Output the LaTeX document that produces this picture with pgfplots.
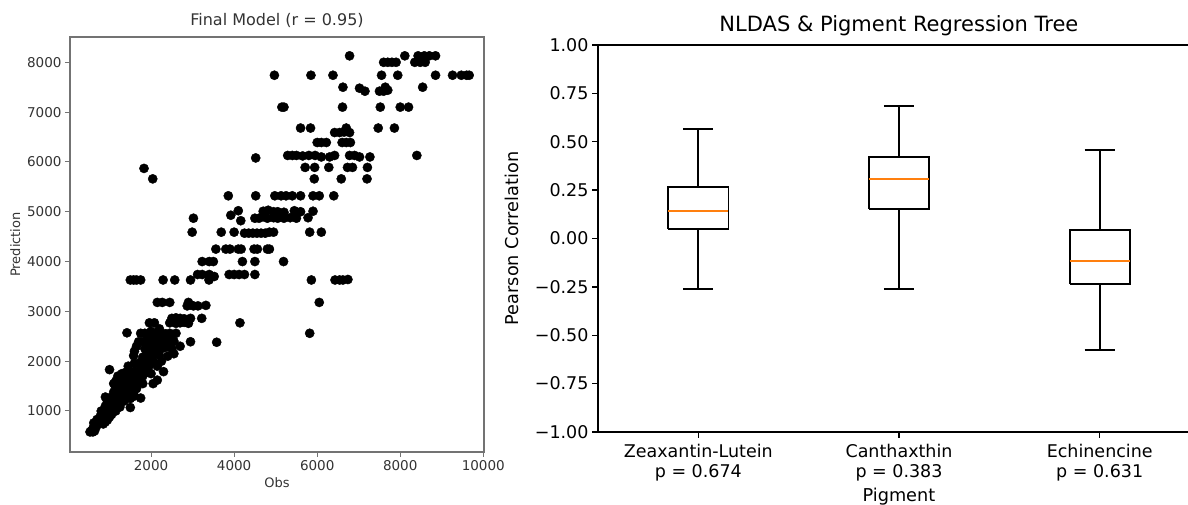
\documentclass[border=0pt]{standalone}
\usepackage{pgfplots}
\pgfplotsset{compat=1.18}
\usepackage{fontspec}
\setmainfont{DejaVu Sans}
\definecolor{mplorange}{HTML}{FF7F0E}

\pgfplotstableread{
x y
530 580
560 600
600 580
640 600
600 650
680 680
620 760
700 750
760 760
850 740
900 780
700 830
800 820
880 850
950 820
780 900
850 920
920 900
1000 880
1050 930
850 1000
920 1020
1000 1000
1080 1050
1150 1000
1250 1080
900 1100
980 1080
1060 1120
1150 1150
1500 1070
950 1200
1050 1180
1120 1220
1200 1160
1300 1200
900 1280
1000 1260
1100 1300
1200 1270
1280 1300
1380 1250
1750 1260
1100 1380
1180 1350
1260 1400
1340 1380
1420 1350
1600 1420
1150 1480
1250 1450
1350 1500
1450 1470
1550 1520
1650 1450
1100 1550
1250 1580
1380 1560
1480 1600
1560 1580
1650 1620
1700 1560
2050 1550
1350 1660
1450 1700
1550 1680
1620 1720
1700 1680
1800 1700
2150 1620
1400 1780
1520 1760
1600 1800
1700 1780
1800 1820
1900 1780
2300 1790
1000 1830
1750 1880
1850 1850
1950 1900
1600 1960
1750 1980
1850 2000
1950 1950
2050 2000
1580 2110
1800 2080
1900 2150
2000 2100
2100 2150
2200 2120
2400 2100
2550 2150
1850 2250
1950 2280
2050 2250
2150 2300
2250 2250
2350 2280
2500 2250
2700 2300
1700 2390
1800 2390
1900 2420
2000 2400
2100 2380
2200 2420
2300 2400
2400 2380
2950 2390
3580 2380
1420 2570
1750 2560
1850 2560
1950 2560
2050 2540
2150 2560
2250 2560
2350 2550
2450 2560
2600 2560
5820 2560
1960 2770
2080 2770
2450 2770
2600 2760
2700 2770
2800 2780
2900 2760
4140 2770
2500 2860
2600 2870
2700 2860
2800 2850
2950 2860
3220 2860
2870 3110
2950 3130
3020 3110
3130 3110
3320 3120
2150 3180
2270 3180
2450 3180
2900 3180
6050 3180
1500 3630
1580 3630
1650 3630
1750 3630
2290 3630
2570 3630
2950 3630
3395 3630
5860 3630
6430 3630
6540 3630
6620 3630
6740 3640
3120 3740
3230 3740
3400 3740
3520 3700
3880 3740
4000 3740
4120 3740
4250 3740
4500 3740
3230 4000
3400 4000
3500 4000
4200 4000
4500 4000
5190 4000
3560 4250
3800 4250
3900 4250
4100 4250
4170 4250
4480 4250
4560 4250
4800 4250
4850 4250
2990 4590
3690 4590
4000 4590
4250 4570
4350 4570
4450 4570
4550 4570
4650 4570
4750 4570
4850 4590
4950 4590
5820 4590
6100 4590
3020 4870
4160 4820
4500 4870
4600 4870
4700 4900
4800 4870
4950 4880
5050 4870
5200 4870
5350 4880
5500 4870
5780 4880
3920 4930
4100 5020
4700 5010
4820 5030
4950 5000
5050 5000
5200 4990
5450 5020
5600 5000
5900 5010
3860 5320
4520 5320
4980 5320
5130 5320
5250 5320
5400 5320
5600 5320
5900 5320
6050 5320
6400 5320
2040 5660
5930 5660
6580 5660
7200 5660
1830 5870
5710 5890
5940 5890
6280 5890
6730 5890
6850 5890
7210 5890
4520 6080
5290 6130
5400 6130
5500 6130
5650 6120
5800 6130
5950 6130
6100 6100
6300 6100
6420 6130
6780 6130
6900 6130
7020 6100
7270 6100
8400 6130
6000 6390
6100 6390
6220 6390
6600 6390
6700 6390
6800 6390
6420 6590
6540 6590
6650 6600
6780 6590
6700 6680
5600 6680
5840 6680
7470 6680
7860 6680
5150 7100
5200 7100
6610 7100
7520 7100
8000 7100
8200 7100
7020 7480
7150 7420
7500 7420
7600 7420
7700 7440
6620 7500
7640 7500
8540 7500
4970 7740
5850 7740
6380 7740
7550 7740
7940 7740
8850 7740
9260 7740
9470 7740
9600 7740
9660 7740
7600 8000
7700 8000
7800 8000
7900 8000
8350 8000
8480 8000
8600 8000
6780 8130
8110 8130
8430 8130
8580 8130
8700 8130
8850 8130
1300 1750
1450 1900
1600 2200
1650 2300
2000 2600
2200 2650
2450 2450
2550 2400
1800 1550
2000 1750
2150 1900
2250 2000
1350 1200
1600 1300
1500 1250
800 1000
1150 1600
1200 1700
}\scatterdata

\begin{document}
\begin{tikzpicture}
\begin{axis}[
  at={(70pt,53pt)}, anchor=south west, scale only axis,
  width=414pt, height=415pt,
  xmin=48, xmax=10017, ymin=177, ymax=8508,
  scaled x ticks=false, scaled y ticks=false,
  xtick={2000,4000,6000,8000,10000},
  xticklabels={2000,4000,6000,8000,10000},
  ytick={1000,2000,3000,4000,5000,6000,7000,8000},
  yticklabels={1000,2000,3000,4000,5000,6000,7000,8000},
  tick align=outside, tick pos=left, major tick length=5pt,
  axis line style={black!55, line width=1.2pt},
  every tick/.style={black!55, line width=1pt},
  ticklabel style={font=\fontsize{13.5}{16}\selectfont, text=black!80},
  title={Final Model (r = 0.95)},
  title style={font=\fontsize{16}{19}\selectfont, text=black!80},
  xlabel={Obs}, ylabel={Prediction},
  label style={font=\fontsize{13}{15}\selectfont, text=black!80},
]
\addplot[only marks, mark=*, mark size=4.6pt, black] table {\scatterdata};
\end{axis}

\begin{axis}[
  at={(598pt,73pt)}, anchor=south west, scale only axis,
  width=590pt, height=387pt,
  xmin=0.5, xmax=3.44, ymin=-1, ymax=1,
  axis y line*=left,
  xtick={1,2,3},
  xticklabels={{Zeaxantin-Lutein\\p = 0.674},{Canthaxthin\\p = 0.383},{Echinencine\\p = 0.631}},
  xticklabel style={align=center, font=\fontsize{17.5}{19.5}\selectfont, yshift=-3pt},
  ytick={-1,-0.75,-0.5,-0.25,0,0.25,0.5,0.75,1},
  yticklabels={−1.00,−0.75,−0.50,−0.25,0.00,0.25,0.50,0.75,1.00},
  yticklabel style={font=\fontsize{17.5}{20}\selectfont},
  tick align=outside, tick pos=left, major tick length=6pt,
  axis line style={black, line width=1.6pt},
  every tick/.style={black, line width=1.4pt},
  title={NLDAS \& Pigment Regression Tree},
  title style={at={(axis description cs:0.51,1)}, font=\fontsize{21}{25}\selectfont},
  xlabel={Pigment}, ylabel={Pearson Correlation},
  xlabel style={at={(ticklabel cs:0.51)}, yshift=-0.5pt},
  ylabel style={yshift=9pt},
  label style={font=\fontsize{17.7}{21}\selectfont},
]
% Zeaxantin-Lutein
\addplot[black, line width=1.8pt] coordinates {(0.85,0.050) (1.15,0.050) (1.15,0.265) (0.85,0.265) (0.85,0.050)};
\addplot[black, line width=1.8pt] coordinates {(1,0.265) (1,0.567)};
\addplot[black, line width=1.8pt] coordinates {(1,0.050) (1,-0.262)};
\addplot[black, line width=1.8pt] coordinates {(0.925,0.567) (1.075,0.567)};
\addplot[black, line width=1.8pt] coordinates {(0.925,-0.262) (1.075,-0.262)};
\addplot[mplorange, line width=2pt] coordinates {(0.85,0.142) (1.15,0.142)};
% Canthaxthin
\addplot[black, line width=1.8pt] coordinates {(1.85,0.152) (2.15,0.152) (2.15,0.422) (1.85,0.422) (1.85,0.152)};
\addplot[black, line width=1.8pt] coordinates {(2,0.422) (2,0.685)};
\addplot[black, line width=1.8pt] coordinates {(2,0.152) (2,-0.262)};
\addplot[black, line width=1.8pt] coordinates {(1.925,0.685) (2.075,0.685)};
\addplot[black, line width=1.8pt] coordinates {(1.925,-0.262) (2.075,-0.262)};
\addplot[mplorange, line width=2pt] coordinates {(1.85,0.310) (2.15,0.310)};
% Echinencine
\addplot[black, line width=1.8pt] coordinates {(2.85,-0.234) (3.15,-0.234) (3.15,0.043) (2.85,0.043) (2.85,-0.234)};
\addplot[black, line width=1.8pt] coordinates {(3,0.043) (3,0.456)};
\addplot[black, line width=1.8pt] coordinates {(3,-0.234) (3,-0.576)};
\addplot[black, line width=1.8pt] coordinates {(2.925,0.456) (3.075,0.456)};
\addplot[black, line width=1.8pt] coordinates {(2.925,-0.576) (3.075,-0.576)};
\addplot[mplorange, line width=2pt] coordinates {(2.85,-0.115) (3.15,-0.115)};
\end{axis}
\pgfresetboundingbox
\path[use as bounding box] (0pt,0pt) rectangle (1188pt,505pt);
\end{tikzpicture}
\end{document}
